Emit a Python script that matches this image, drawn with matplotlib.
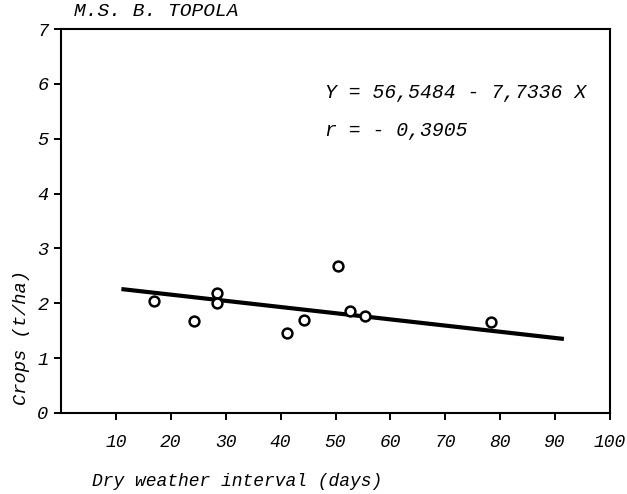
import matplotlib
matplotlib.use("Agg")
import matplotlib.pyplot as plt

# Data
dry_days = [17.0, 24.3, 28.5, 28.5, 41.2, 44.3, 50.4, 52.6, 55.3, 78.3]
crops = [2.04, 1.68, 2.19, 2.01, 1.46, 1.70, 2.68, 1.86, 1.77, 1.66]
fit_x = [11.0, 91.6]
fit_y = [2.26, 1.35]
x_ticks = [10, 20, 30, 40, 50, 60, 70, 80, 90, 100]
y_ticks = [0, 1, 2, 3, 4, 5, 6, 7]
title = "M.S. B. TOPOLA"
eq_text = "Y = 56,5484 - 7,7336 X"
r_text = "r = - 0,3905"
xlabel = "Dry weather interval (days)"
ylabel = "Crops (t/ha)"

FONT = dict(family="Liberation Mono", style="italic")

fig = plt.figure(figsize=(6.27, 4.94), dpi=100)
ax = fig.add_axes([0.0973, 0.164, 0.8756, 0.777])

ax.plot(fit_x, fit_y, color="black", lw=3.0, solid_capstyle="butt", zorder=2)
ax.scatter(dry_days, crops, s=50, facecolor="white", edgecolor="black",
           linewidths=1.8, zorder=3)

ax.set_xlim(0, 100)
ax.set_ylim(0, 7)
ax.set_xticks(x_ticks)
ax.set_yticks(y_ticks)
ax.set_xticklabels([str(v) for v in x_ticks], fontdict=dict(size=13, **FONT))
ax.set_yticklabels([str(v) for v in y_ticks], fontdict=dict(size=13.5, **FONT))
ax.tick_params(axis="both", direction="out", length=5, width=1.4, color="black")
ax.tick_params(axis="x", pad=10)
ax.tick_params(axis="y", pad=4)
for s in ax.spines.values():
    s.set_linewidth(1.5)
    s.set_color("black")

ax.text(48.0, 5.84, eq_text, fontsize=14.2, va="center", ha="left", **FONT)
ax.text(48.0, 5.16, r_text, fontsize=14.2, va="center", ha="left", **FONT)

fig.text(74 / 627, 1 - 12 / 494, title, fontsize=14, va="center", ha="left", **FONT)
fig.text(92 / 627, 1 - 481 / 494, xlabel, fontsize=13, va="center", ha="left", **FONT)
fig.text(22 / 627, 1 - 337 / 494, ylabel, fontsize=13.5, va="center", ha="center",
         rotation=90, **FONT)

fig.savefig("out.png", dpi=100, facecolor="white")
